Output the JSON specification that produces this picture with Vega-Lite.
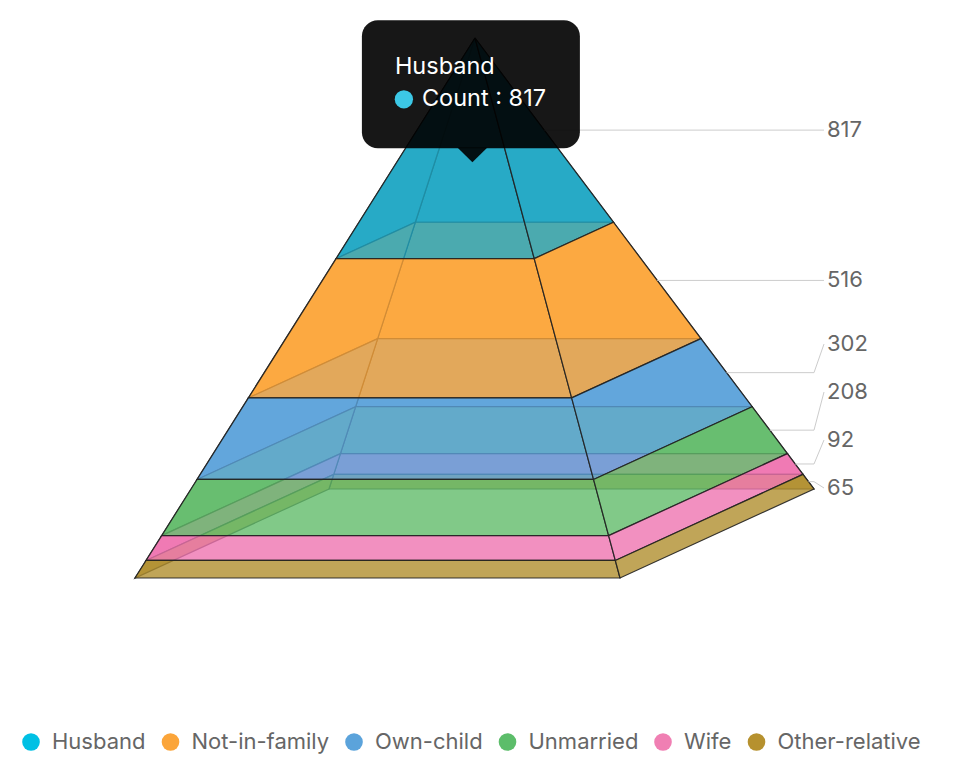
{
  "$schema": "https://vega.github.io/schema/vega-lite/v6.json",
  "width": 956,
  "height": 774,
  "autosize": "none",
  "padding": 0,
  "background": "white",
  "config": {"view": {"stroke": null}, "font": "Inter"},
  "data": {
    "values": [
      {"relationship": "Husband", "count": 817},
      {"relationship": "Not-in-family", "count": 516},
      {"relationship": "Own-child", "count": 302},
      {"relationship": "Unmarried", "count": 208},
      {"relationship": "Wife", "count": 92},
      {"relationship": "Other-relative", "count": 65}
    ]
  },
  "transform": [
    {"window": [{"op": "sum", "field": "count", "as": "cum"}], "sort": [{"field": "count", "order": "descending"}]},
    {"window": [{"op": "rank", "as": "rank_up"}], "sort": [{"field": "count", "order": "ascending"}]},
    {"joinaggregate": [{"op": "sum", "field": "count", "as": "total"}]},
    {"calculate": "(datum.cum - datum.count) / datum.total", "as": "t0"},
    {"calculate": "datum.cum / datum.total", "as": "t1"},
    {"calculate": "(datum.t0 + datum.t1) / 2", "as": "tm"}
  ],
  "encoding": {
    "x": {"field": "px", "type": "quantitative", "scale": {"domain": [-4.75, 4.81], "nice": false, "zero": false}, "axis": null},
    "y": {"field": "py", "type": "quantitative", "scale": {"domain": [-0.38, 7.36], "nice": false, "zero": false, "reverse": true}, "axis": null}
  },
  "layer": [
    {
      "transform": [
        {"calculate": "datum.t0 * -3.40", "as": "aFL"},
        {"calculate": "datum.t0 * 1.45", "as": "aFR"},
        {"calculate": "datum.t0 * 3.39", "as": "aBR"},
        {"calculate": "datum.t0 * -1.46", "as": "aBL"},
        {"calculate": "datum.t0 * 5.40", "as": "aF"},
        {"calculate": "datum.t0 * 4.51", "as": "aB"},
        {"calculate": "datum.t1 * -3.40", "as": "bFL"},
        {"calculate": "datum.t1 * 1.45", "as": "bFR"},
        {"calculate": "datum.t1 * 3.39", "as": "bBR"},
        {"calculate": "datum.t1 * -1.46", "as": "bBL"},
        {"calculate": "datum.t1 * 5.40", "as": "bF"},
        {"calculate": "datum.t1 * 4.51", "as": "bB"},
        {"calculate": "[[0,0,datum.aBL,datum.aB],[0,1,datum.aBR,datum.aB],[0,2,datum.bBR,datum.bB],[0,3,datum.bBL,datum.bB],[0,4,datum.aBL,datum.aB],[1,0,datum.aFL,datum.aF],[1,1,datum.aBL,datum.aB],[1,2,datum.bBL,datum.bB],[1,3,datum.bFL,datum.bF],[1,4,datum.aFL,datum.aF],[2,0,datum.aFL,datum.aF],[2,1,datum.aFR,datum.aF],[2,2,datum.bFR,datum.bF],[2,3,datum.bFL,datum.bF],[2,4,datum.aFL,datum.aF],[3,0,datum.aFR,datum.aF],[3,1,datum.aBR,datum.aB],[3,2,datum.bBR,datum.bB],[3,3,datum.bFR,datum.bF],[3,4,datum.aFR,datum.aF]]", "as": "v"},
        {"flatten": ["v"]},
        {"calculate": "datum.v[0]", "as": "face"},
        {"calculate": "datum.v[1]", "as": "i"},
        {"calculate": "datum.v[2]", "as": "px"},
        {"calculate": "datum.v[3]", "as": "py"}
      ],
      "layer": [
        {
          "transform": [{"filter": "datum.face == 0"}],
          "mark": {"type": "line", "stroke": "#222222", "strokeWidth": 1.2, "strokeOpacity": 0.9, "fillOpacity": 0.8},
          "encoding": {
            "fill": {"field": "rank_up", "type": "nominal", "legend": null, "scale": {"domain": [6, 5, 4, 3, 2, 1], "range": ["#1ea6c3", "#fba53a", "#5ba3db", "#62bb6a", "#ef74b0", "#b08e2e"]}},
            "order": {"field": "i", "type": "quantitative"}
          }
        },
        {
          "transform": [{"filter": "datum.face == 1"}],
          "mark": {"type": "line", "stroke": "#222222", "strokeWidth": 1.2, "strokeOpacity": 0.9, "fillOpacity": 0.8},
          "encoding": {
            "fill": {"field": "rank_up", "type": "nominal", "legend": null},
            "order": {"field": "i", "type": "quantitative"}
          }
        },
        {
          "transform": [{"filter": "datum.face == 2"}],
          "mark": {"type": "line", "stroke": "#222222", "strokeWidth": 1.2, "strokeOpacity": 0.9, "fillOpacity": 0.8},
          "encoding": {
            "fill": {"field": "rank_up", "type": "nominal", "legend": null},
            "order": {"field": "i", "type": "quantitative"}
          }
        },
        {
          "transform": [{"filter": "datum.face == 3"}],
          "mark": {"type": "line", "stroke": "#222222", "strokeWidth": 1.2, "strokeOpacity": 0.9, "fillOpacity": 0.8},
          "encoding": {
            "fill": {"field": "rank_up", "type": "nominal", "legend": null},
            "order": {"field": "i", "type": "quantitative"}
          }
        }
      ]
    },
    {
      "transform": [
        {"calculate": "datum.tm * 4.51", "as": "ly"},
        {"calculate": "datum.rank_up == 1 ? 4.50 : min(datum.ly, 4.50 - 0.48 * (datum.rank_up - 1))", "as": "lab"},
        {"calculate": "[[0, datum.tm * 3.39, datum.ly], [1, 3.39, datum.ly], [2, 3.49, datum.lab]]", "as": "v"},
        {"flatten": ["v"]},
        {"calculate": "datum.v[0]", "as": "i"},
        {"calculate": "datum.v[1]", "as": "px"},
        {"calculate": "datum.v[2]", "as": "py"}
      ],
      "mark": {"type": "line", "stroke": "#cccccc", "strokeWidth": 1},
      "encoding": {
        "detail": {"field": "relationship", "type": "nominal"},
        "order": {"field": "i", "type": "quantitative"}
      }
    },
    {
      "transform": [
        {"calculate": "datum.tm * 4.51", "as": "ly"},
        {"calculate": "datum.rank_up == 1 ? 4.50 : min(datum.ly, 4.50 - 0.48 * (datum.rank_up - 1))", "as": "py"},
        {"calculate": "3.52", "as": "px"}
      ],
      "mark": {"type": "text", "align": "left", "baseline": "middle", "font": "Inter", "fontSize": 22, "color": "#666666"},
      "encoding": {"text": {"field": "count", "type": "quantitative"}}
    },
    {
      "transform": [
        {"calculate": "0", "as": "px"},
        {"calculate": "0", "as": "py"}
      ],
      "mark": {"type": "circle", "size": 0, "opacity": 1},
      "encoding": {
        "color": {
          "field": "relationship",
          "type": "nominal",
          "scale": {"domain": ["Husband", "Not-in-family", "Own-child", "Unmarried", "Wife", "Other-relative"], "range": ["#00c0e4", "#fba53a", "#5ba3db", "#5cbd6a", "#f07fb3", "#b6912e"]},
          "legend": {
            "orient": "none",
            "legendX": 20,
            "legendY": 731,
            "direction": "horizontal",
            "title": null,
            "symbolType": "circle",
            "symbolSize": 310,
            "symbolOpacity": 1,
            "symbolStrokeWidth": 0,
            "labelFont": "Inter",
            "labelFontSize": 22,
            "labelColor": "#666666",
            "labelOffset": 10,
            "columnPadding": 13.5,
            "padding": 0
          }
        }
      }
    },
    {
      "transform": [
        {"filter": "datum.relationship == 'Husband'"},
        {"calculate": "datum.tm * -0.005", "as": "px"},
        {"calculate": "datum.tm * 5.40", "as": "py"},
        {"calculate": "'Count : ' + datum.count", "as": "ctext"}
      ],
      "layer": [
        {
          "mark": {"type": "rect", "color": "#000000", "opacity": 0.91, "cornerRadius": 16, "xOffset": -113, "x2Offset": 105, "yOffset": -128, "y2Offset": 0},
          "encoding": {"x2": {"field": "px"}, "y2": {"field": "py"}}
        },
        {
          "mark": {"type": "point", "shape": "M-1,-0.05L1,-0.05L0,0.93Z", "size": 900, "filled": true, "color": "#000000", "opacity": 0.91, "xOffset": -2.5}
        },
        {
          "mark": {"type": "circle", "size": 335, "color": "#3cc8e6", "opacity": 1, "xOffset": -71, "yOffset": -49}
        },
        {
          "mark": {"type": "text", "align": "left", "baseline": "middle", "font": "Inter", "fontSize": 23.5, "color": "white", "dx": -80, "dy": -81},
          "encoding": {"text": {"field": "relationship", "type": "nominal"}}
        },
        {
          "mark": {"type": "text", "align": "left", "baseline": "middle", "font": "Inter", "fontSize": 23.5, "color": "white", "dx": -53, "dy": -49},
          "encoding": {"text": {"field": "ctext", "type": "nominal"}}
        }
      ]
    }
  ]
}
